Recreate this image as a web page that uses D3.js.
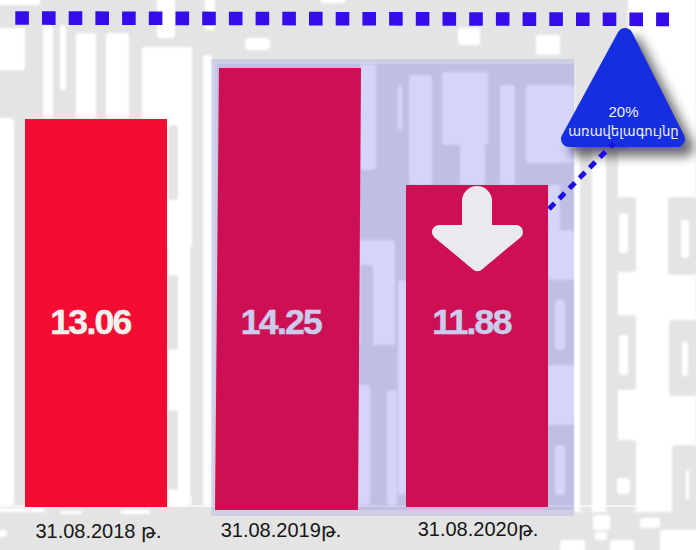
<!DOCTYPE html>
<html><head><meta charset="utf-8">
<script src="https://cdn.jsdelivr.net/npm/d3@7"></script>
<style>html,body{margin:0;padding:0;background:#fff}svg{display:block}</style>
</head><body><svg id="c" width="696" height="550"></svg>
<script>
const categories = ["31.08.2018 թ.", "31.08.2019թ.", "31.08.2020թ."];
const values = [13.06, 14.25, 11.88];
const calloutLines = ["20%", "առավելագույնը"];

const svg = d3.select("#c");
const W = 696, H = 550, baseY = 507;
const x = d3.scaleBand().domain(categories).range([25, 548]).paddingInner(0.2546);
// the bars were hand-placed in the source, so the scale passes through each of them
const y = d3.scaleLinear().domain([11.88, 13.06, 14.25]).range([185, 119, 68]);

const defs = svg.append("defs");
defs.append("filter").attr("id","soft").attr("x","-5%").attr("y","-5%").attr("width","110%").attr("height","110%")
  .append("feGaussianBlur").attr("stdDeviation",1.2);
defs.append("filter").attr("id","shadow").attr("x","-30%").attr("y","-30%").attr("width","170%").attr("height","170%")
  .append("feGaussianBlur").attr("stdDeviation",6);

// ---- background watermark (decoration, not data): painted in order, 1 = white, 0 = grey
const GREY = "#e4e4e4", WHITE = "#ffffff";
const bg = svg.append("g").attr("filter","url(#soft)");
bg.append("rect").attr("x",-5).attr("y",-5).attr("width",W+10).attr("height",H+10).attr("fill",GREY);
const watermark = [
  // top-left
  [1,-5,-5,45,10],[1,-5,28,30,42],[1,-5,118,19,388],[1,43,25,10,93],[1,60,25,6,65],[1,76,33,20,85],[1,106,33,23,85],
  [1,142,47,50,200],[1,157,-5,18,43],[1,205,-5,10,35],[1,245,38,25,12],[1,168,119,22,387],[1,203,55,9,451],
  [0,168,125,10,75],[0,168,275,10,75],[0,168,410,10,80],
  [1,320,-5,26,8],[1,458,28,22,17],[1,536,35,24,20],
  // inside the panel
  [1,360,64,16,106],[1,398,85,4,45],[1,409,75,23,110],[1,442,72,46,73],[1,460,145,25,40],[1,500,85,15,100],[1,526,85,48,78],
  [1,358,240,37,105],[0,360,265,13,85],[1,358,385,12,120],[1,387,390,10,115],[1,398,280,8,215],
  [1,548,185,12,45],[1,548,230,26,50],[1,548,365,26,60],[1,555,300,10,50],[1,555,445,10,50],
  // right side
  [1,628,-5,68,175],[1,574,150,122,362],
  [0,580,150,12,362],[0,606,150,12,362],
  [0,616,197,20,75],[1,619,213,9,40],
  [0,616,315,20,75],[1,619,335,9,40],
  [0,616,440,20,72],[1,617,478,13,16],
  [0,668,197,28,78],[1,681,220,8,38],
  [0,669,320,27,76],[1,682,342,6,34],
  [0,672,445,24,80],[1,686,470,3,30],
  // bottom
  [1,-5,508,50,4],[1,-5,530,12,7],[1,60,511,22,3],[1,120,510,30,4],
  [1,593,515,17,15],[1,640,518,20,10],[1,660,530,40,25],[1,610,540,24,12],[1,560,540,25,12],[1,595,532,12,8]
];
bg.selectAll("rect.w").data(watermark).join("rect").attr("class","w")
  .attr("x",d=>d[1]).attr("y",d=>d[2]).attr("width",d=>d[3]).attr("height",d=>d[4]).attr("rx",3)
  .attr("fill",d=>d[0]?WHITE:GREY);

// ---- axis
const ax = d3.axisBottom(x).tickSize(0).tickPadding(0);
const axisG = svg.append("g").attr("transform",`translate(0,${baseY})`).call(ax);
axisG.select(".domain").remove();
axisG.selectAll("text").attr("fill","#161616").attr("font-family","'Liberation Sans',Arial,sans-serif")
  .attr("font-size",20).attr("text-anchor","middle").attr("dy",0)
  .attr("transform",(d,i)=>`translate(${[2.5,-5.5,1][i]},${[31,30,29][i]})`);
svg.append("path").attr("d","M0,506H640M191,496V506").attr("stroke","#fff").attr("stroke-width",1.6).attr("fill","none").attr("opacity",.8);

// ---- bars
svg.selectAll("path.bar").data(values).join("path").attr("class","bar")
  .attr("fill","#f50c32")
  .attr("d",(v,i)=>{
    const l=x(categories[i]), w=x.bandwidth(), t=y(v);
    return i===1
      ? `M${l+3.5},${t}H${l+w+3.5}L${l+w+0.5},${baseY+3}H${l-0.5}Z`
      : `M${l},${t}H${l+w}V${baseY}H${l}Z`;
  });

// ---- value labels
svg.selectAll("text.val").data(values).join("text").attr("class","val")
  .attr("x",(v,i)=>x(categories[i])+x.bandwidth()/2-5.5).attr("y",334).attr("text-anchor","middle")
  .attr("font-family","'Liberation Sans',Arial,sans-serif").attr("font-weight",700)
  .attr("font-size",35.5).attr("letter-spacing",-1.7).attr("fill","#f3f3ee").attr("stroke","#f3f3ee").attr("stroke-width",.5)
  .text(v=>v.toFixed(2));

// ---- translucent panel over the last two bars
svg.append("rect").attr("x",211).attr("y",59).attr("width",363).attr("height",457).attr("fill","rgba(34,34,228,.11)");
svg.append("rect").attr("x",217).attr("y",64).attr("width",357).attr("height",446).attr("fill","rgba(34,34,228,.09)");

// ---- top dotted rule
svg.append("line").attr("x1",15.3).attr("y1",18).attr("x2",669).attr("y2",19.4)
  .attr("stroke","#350dea").attr("stroke-width",13.6).attr("stroke-dasharray","13.6 13.1");

// ---- arrow
const ARROW = "#e9eaf0";
svg.append("circle").attr("cx",477).attr("cy",201).attr("r",15).attr("fill",ARROW);
svg.append("path").attr("d","M469,201H485V232H516L477.5,264L439,232H469Z")
  .attr("fill",ARROW).attr("stroke",ARROW).attr("stroke-width",14).attr("stroke-linejoin","round");

// ---- callout
const tri = "M625,36L677,139H569Z";
svg.append("path").attr("d",tri).attr("fill","#000").attr("stroke","#000").attr("stroke-width",16).attr("stroke-linejoin","round")
  .attr("opacity",.6).attr("transform","translate(9,9)").attr("filter","url(#shadow)");
svg.append("path").attr("d",tri).attr("fill","#152ee0").attr("stroke","#152ee0").attr("stroke-width",16).attr("stroke-linejoin","round");
svg.append("line").attr("x1",549).attr("y1",209).attr("x2",614).attr("y2",143)
  .attr("stroke","#1b0de8").attr("stroke-width",5).attr("stroke-dasharray","8 6.5");
svg.selectAll("text.call").data(calloutLines).join("text").attr("class","call")
  .attr("x",623.5).attr("y",(d,i)=>117+i*19).attr("text-anchor","middle").attr("fill","#f0f2ff")
  .attr("font-family",(d,i)=>i?"'DejaVu Sans',sans-serif":"'Liberation Sans',sans-serif").attr("font-size",(d,i)=>i?13.2:15).text(d=>d);
</script></body></html>
